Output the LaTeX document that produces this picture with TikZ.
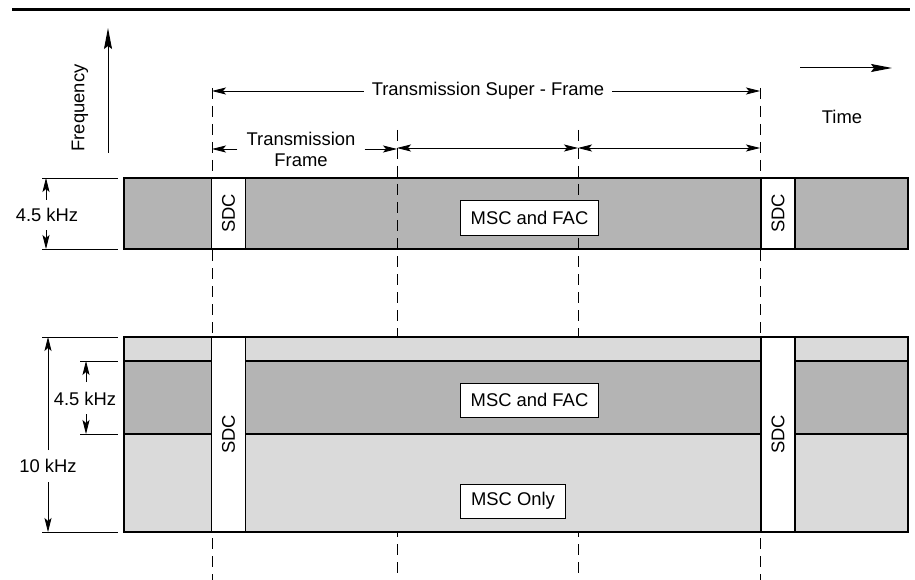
\documentclass[tikz,border=0pt]{standalone}
\usepackage{fontspec}
\setmainfont{Liberation Sans}
\usetikzlibrary{arrows.meta}
\definecolor{bandDark}{HTML}{B4B4B4}
\definecolor{bandLight}{HTML}{DADADA}
\begin{document}
\begin{tikzpicture}[x=1pt,y=-1pt,
	every node/.style={font=\fontsize{18.4}{21}\selectfont},
	dimtip/.style={-{Stealth[length=14pt,width=7pt,inset=3pt]},line width=0.8pt},
	dimboth/.style={{Stealth[length=14pt,width=7pt,inset=3pt]}-{Stealth[length=14pt,width=7pt,inset=3pt]},line width=0.8pt},
	bigtip/.style={-{Stealth[length=21pt,width=8pt,inset=3pt]},line width=1pt},
	extline/.style={line width=0.8pt},
	dashline/.style={line width=0.9pt,dash pattern=on 11pt off 7pt},
	band/.style={draw,line width=1.6pt},
	chbox/.style={draw,fill=white,line width=1pt,minimum height=34pt,inner xsep=10pt},
	sdcbox/.style={draw,fill=white,line width=1.6pt,rotate=90,minimum height=34pt,inner sep=0pt}]
	\useasboundingbox (0,0) rectangle (915,580) ;
	%Regle
	\draw [line width=3pt]		(12,10)		-- (910,10)		;
	%Axes
	\draw [bigtip]		(108,153)	-- (108,28)	;
	\path (80,108) node [rotate=90] (freq) {Frequency} ;
	\draw [bigtip]		(800,68)	-- (892,68)	;
	\path (842,117) node (time) {Time} ;
	%Bande haute
	\filldraw [band,fill=bandDark]	(124,178) rectangle (908,249) ;
	%Limites de trame
	\coordinate (t0) at (212,148) ;
	\coordinate (t1) at (397,148) ;
	\coordinate (t2) at (578,148) ;
	\coordinate (t3) at (760,148) ;
	\draw [dashline]	(212,88)	-- (212,580)	;
	\draw [dashline]	(397,130)	-- (397,580)	;
	\draw [dashline]	(578,130)	-- (578,580)	;
	\draw [dashline]	(760,88)	-- (760,580)	;
	%Super trame
	\path (488,91) node [inner xsep=8pt] (super) {Transmission Super - Frame} ;
	\draw [dimtip]		(super.west)	-- (super.west -| t0)	;
	\draw [dimtip]		(super.east)	-- (super.east -| t3)	;
	%Trames
	\path (301,149) node [align=center,inner xsep=9pt] (frame) {Transmission\\Frame} ;
	\draw [dimtip]		(frame.west)	-- (frame.west -| t0)	;
	\draw [dimtip]		(frame.east)	-- (frame.east -| t1)	;
	\draw [dimboth]		(t1)	-- (t2)	;
	\draw [dimboth]		(t2)	-- (t3)	;
	%Canaux haut
	\path (228.5,213.5) node [sdcbox,minimum width=71pt] (sdcA) {SDC} ;
	\path (778,213.5) node [sdcbox,minimum width=71pt] (sdcB) {SDC} ;
	\path (529.5,218) node [chbox] (mscA) {MSC and FAC} ;
	%Bande basse
	\filldraw [band,fill=bandLight]	(124,337) rectangle (908,532) ;
	\filldraw [band,fill=bandDark]	(124,361) rectangle (908,434) ;
	\path (228.5,434.5) node [sdcbox,minimum width=195pt] (sdcC) {SDC} ;
	\path (778,434.5) node [sdcbox,minimum width=195pt] (sdcD) {SDC} ;
	\path (529.5,400) node [chbox] (mscB) {MSC and FAC} ;
	\path (513,501) node [chbox,inner xsep=11pt] (mscC) {MSC Only} ;
	%Cotes
	\draw [extline]		(42,178)	-- (118,178)	;
	\draw [extline]		(42,249)	-- (118,249)	;
	\path (47,215) node (bwA) {4.5 kHz} ;
	\draw [dimtip]		(46,200)	-- (46,178)	;
	\draw [dimtip]		(46,230)	-- (46,249)	;
	\draw [extline]		(42,337)	-- (118,337)	;
	\draw [extline]		(42,532)	-- (118,532)	;
	\path (48,466) node (bwC) {10 kHz} ;
	\draw [dimtip]		(48,450)	-- (48,337)	;
	\draw [dimtip]		(48,482)	-- (48,532)	;
	\draw [extline]		(80,361)	-- (118,361)	;
	\draw [extline]		(80,434)	-- (118,434)	;
	\path (85,399) node (bwB) {4.5 kHz} ;
	\draw [dimtip]		(86,382)	-- (86,361)	;
	\draw [dimtip]		(86,414)	-- (86,434)	;
\end{tikzpicture}
\end{document}
